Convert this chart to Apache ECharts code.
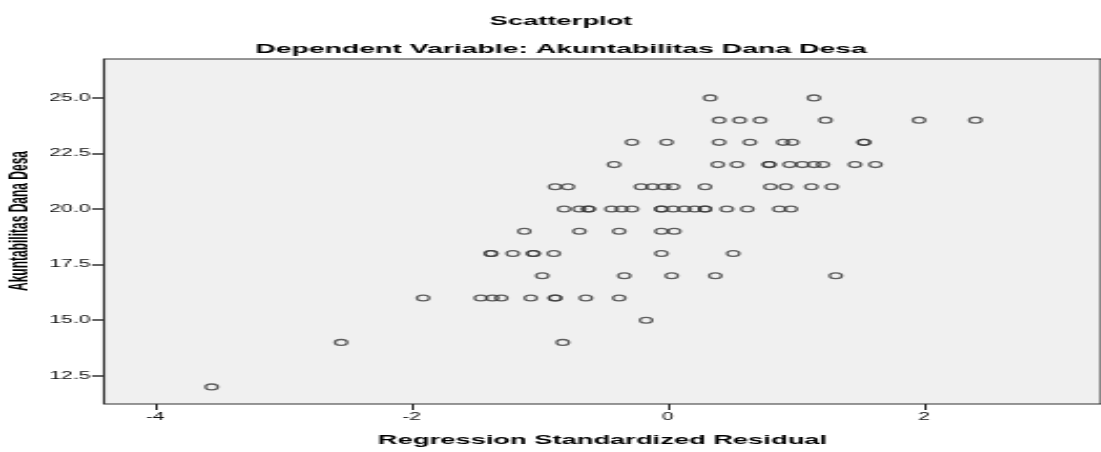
<!DOCTYPE html>
<html>
<head>
<meta charset="utf-8">
<script src="https://cdn.jsdelivr.net/npm/echarts@6/dist/echarts.min.js"></script>
<style>
  html, body { margin: 0; padding: 0; background: #fff; overflow: hidden; }
  /* the source picture is stretched sideways, so draw narrow and widen with css */
  #chart { width: 524px; height: 452px; transform: scaleX(2.1011); transform-origin: 0 0; }
</style>
</head>
<body>
<div id="chart"></div>
<script>
// residual (x) and dependent value (y)
const residual = [
  0.33, 1.14,
  0.40, 0.56, 0.72, 1.23, 1.96, 2.40,
  -0.28, -0.01, 0.40, 0.64, 0.90, 0.97, 1.53, 1.53,
  -0.42, 0.39, 0.54, 0.79, 0.79, 0.95, 1.05, 1.14, 1.21, 1.46, 1.62,
  -0.88, -0.78, -0.21, -0.12, -0.03, 0.04, 0.29, 0.80, 0.92, 1.12, 1.28,
  -0.81, -0.69, -0.62, -0.62, -0.44, -0.36, -0.28, -0.05, -0.05, 0.04, 0.13, 0.21, 0.29, 0.29, 0.46, 0.62, 0.87, 0.96,
  -1.12, -0.69, -0.38, -0.05, 0.05,
  -1.38, -1.38, -1.21, -1.05, -1.05, -0.89, -0.05, 0.51,
  -0.98, -0.34, 0.03, 0.37, 1.31,
  -1.91, -1.46, -1.37, -1.30, -1.07, -0.88, -0.88, -0.64, -0.38,
  -0.17,
  -2.55, -0.82,
  -3.56
]
const akuntabilitas = [
  25, 25,
  24, 24, 24, 24, 24, 24,
  23, 23, 23, 23, 23, 23, 23, 23,
  22, 22, 22, 22, 22, 22, 22, 22, 22, 22, 22,
  21, 21, 21, 21, 21, 21, 21, 21, 21, 21, 21,
  20, 20, 20, 20, 20, 20, 20, 20, 20, 20, 20, 20, 20, 20, 20, 20, 20, 20,
  19, 19, 19, 19, 19,
  18, 18, 18, 18, 18, 18, 18, 18,
  17, 17, 17, 17, 17,
  16, 16, 16, 16, 16, 16, 16, 16, 16,
  15,
  14, 14,
  12
]
const xTicks = [-4, -2, 0, 2]
const yTicks = [12.5, 15, 17.5, 20, 22.5, 25]

const points = residual.map((x, i) => [x, akuntabilitas[i]])
const font = '"Liberation Sans", Arial, sans-serif'

const chart = echarts.init(document.getElementById('chart'))
chart.setOption({
  backgroundColor: '#fff',
  animation: false,
  title: [
    {
      text: 'Scatterplot', left: 262, top: 10, textAlign: 'center',
      textStyle: { fontFamily: font, fontSize: 13, fontWeight: 'bold', color: '#000' }
    },
    {
      text: 'Dependent Variable: Akuntabilitas Dana Desa', left: 262, top: 37, textAlign: 'center',
      textStyle: { fontFamily: font, fontSize: 13.5, fontWeight: 'bold', color: '#000' }
    }
  ],
  graphic: [
    {
      type: 'text', x: 9.5, y: 221, rotation: Math.PI / 2,
      style: {
        text: 'Akuntabilitas Dana Desa', textAlign: 'center', textVerticalAlign: 'middle',
        font: 'bold 12px "Liberation Sans", Arial, sans-serif', fill: '#000'
      }
    }
  ],
  grid: {
    left: 49.5, top: 59, right: -1, bottom: 45,
    show: true, backgroundColor: '#F0F0F0', borderColor: '#333', borderWidth: 1.1
  },
  xAxis: {
    type: 'value', min: -4.40, max: 3.38,
    name: 'Regression Standardized Residual',
    nameLocation: 'middle', nameGap: 30,
    nameTextStyle: { fontFamily: font, fontSize: 13, fontWeight: 'bold', color: '#000' },
    axisLine: { show: false, onZero: false },
    splitLine: { show: false },
    axisTick: { show: true, length: 6, lineStyle: { color: '#222', width: 1 }, customValues: xTicks },
    axisLabel: { fontFamily: font, fontSize: 10, color: '#111', margin: 8, customValues: xTicks }
  },
  yAxis: {
    type: 'value', min: 11.23, max: 26.75,
    axisLine: { show: false, onZero: false },
    splitLine: { show: false },
    axisTick: { show: true, length: 5.7, lineStyle: { color: '#333', width: 1.5 }, customValues: yTicks },
    axisLabel: {
      fontFamily: font, fontSize: 10, color: '#111', margin: 6.5, customValues: yTicks,
      formatter: v => v.toFixed(1)
    }
  },
  series: [
    {
      type: 'scatter',
      data: points,
      symbol: 'circle',
      symbolSize: 5.8,
      itemStyle: { color: 'rgba(0,0,0,0)', borderColor: '#3a3a3a', borderWidth: 1.3 },
      emphasis: { disabled: true }
    }
  ]
})
</script>
</body>
</html>
